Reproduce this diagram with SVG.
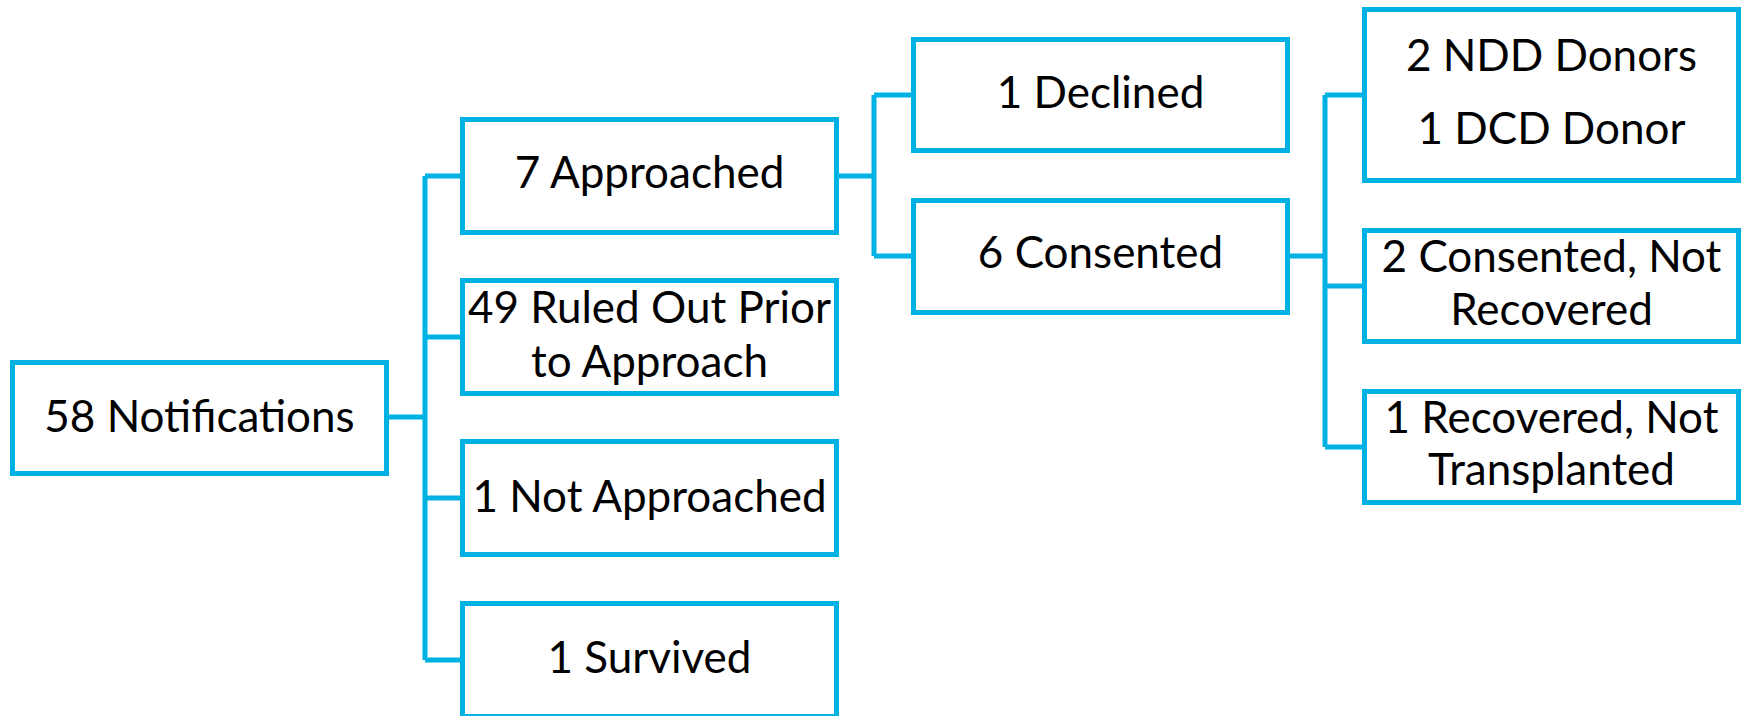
<svg xmlns="http://www.w3.org/2000/svg" width="1747" height="716" viewBox="0 0 1747 716">
<style>
.box{fill:#FFFFFF;stroke:#00B2E3;stroke-width:5}
.conn{fill:none;stroke:#00B2E3;stroke-width:5;stroke-linejoin:miter}
.t{font-family:Lato,"Liberation Sans",sans-serif;font-size:44px;fill:#000000;text-anchor:middle}
</style>
<rect width="1747" height="716" fill="#FFFFFF"/>
<g id="connectors">
<path class="conn" d="M389 417H425M425 176V660M425 176H460M425 337H460M425 498H460M425 660H460"/>
<path class="conn" d="M839 176H874M874 95V256M874 95H911M874 256H911"/>
<path class="conn" d="M1290 256H1325M1325 95V447M1325 95H1362M1325 286H1362M1325 447H1362"/>
</g>
<g id="n58">
<rect class="box" x="12.5" y="362.5" width="374" height="111"/>
<text class="t" x="199.5" y="432">58 Notifications</text>
</g>
<g id="approached">
<rect class="box" x="462.5" y="119.5" width="374" height="113"/>
<text class="t" x="649.5" y="188">7 Approached</text>
</g>
<g id="ruledout">
<rect class="box" x="462.5" y="280.5" width="374" height="113"/>
<text class="t" x="649.5" y="323">49 Ruled Out Prior</text>
<text class="t" x="649.5" y="377">to Approach</text>
</g>
<g id="notapproached">
<rect class="box" x="462.5" y="441.5" width="374" height="113"/>
<text class="t" x="649.5" y="512">1 Not Approached</text>
</g>
<g id="survived">
<rect class="box" x="462.5" y="603.5" width="374" height="113"/>
<text class="t" x="649.5" y="673">1 Survived</text>
</g>
<g id="declined">
<rect class="box" x="913.5" y="39.5" width="374" height="111"/>
<text class="t" x="1100.5" y="108">1 Declined</text>
</g>
<g id="consented">
<rect class="box" x="913.5" y="200.5" width="374" height="112"/>
<text class="t" x="1100.5" y="268">6 Consented</text>
</g>
<g id="donors">
<rect class="box" x="1364.5" y="9.5" width="374" height="171"/>
<text class="t" x="1551.5" y="71">2 NDD Donors</text>
<text class="t" x="1551.5" y="144">1 DCD Donor</text>
</g>
<g id="consentednotrecovered">
<rect class="box" x="1364.5" y="230.5" width="374" height="111"/>
<text class="t" x="1551.5" y="272">2 Consented, Not</text>
<text class="t" x="1551.5" y="325">Recovered</text>
</g>
<g id="recoverednottransplanted">
<rect class="box" x="1364.5" y="391.5" width="374" height="111"/>
<text class="t" x="1551.5" y="433">1 Recovered, Not</text>
<text class="t" x="1551.5" y="485">Transplanted</text>
</g>
</svg>
